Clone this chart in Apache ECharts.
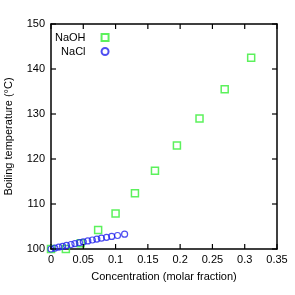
<!DOCTYPE html>
<html><head><meta charset="utf-8">
<script src="https://cdn.jsdelivr.net/npm/echarts@6/dist/echarts.min.js"></script>
<style>html,body{margin:0;padding:0;background:#fff}#c{width:295px;height:295px}</style>
</head><body><div id="c"></div>
<script>
const naohX = [0.000, 0.023, 0.046, 0.073, 0.100, 0.130, 0.161, 0.195, 0.230, 0.269, 0.310];
const naohY = [100.0, 100.0, 101.3, 104.2, 107.9, 112.4, 117.4, 123.0, 129.0, 135.5, 142.5];
const naclX = [0.000, 0.006, 0.012, 0.018, 0.024, 0.031, 0.037, 0.044, 0.050, 0.057, 0.064, 0.071, 0.078, 0.086, 0.094, 0.103, 0.114];
const naclY = [100.0, 100.2, 100.4, 100.6, 100.8, 101.0, 101.2, 101.4, 101.6, 101.8, 102.0, 102.2, 102.4, 102.6, 102.8, 103.0, 103.3];
const xTicks = [0, 0.05, 0.1, 0.15, 0.2, 0.25, 0.3, 0.35];
const yTicks = [100, 110, 120, 130, 140, 150];

const font = 'Liberation Sans';
const chart = echarts.init(document.getElementById('c'));
function ax(extra) {
  return Object.assign({
    axisLine: {show: true, onZero: false, lineStyle: {color: '#000', width: 1.5}},
    axisTick: {show: false},
    splitLine: {show: false}
  }, extra);
}
const xMin = xTicks[0], xMax = xTicks[xTicks.length - 1];
const yMin = yTicks[0], yMax = yTicks[yTicks.length - 1];
const TL = 5;
function renderTicks(params, api) {
  const bl = api.coord([xMin, yMin]);
  const tr = api.coord([xMax, yMax]);
  const children = [];
  const st = {stroke: '#000', lineWidth: 1.2};
  xTicks.forEach(t => {
    const x = api.coord([t, yMin])[0];
    children.push({type: 'line', shape: {x1: x, y1: bl[1], x2: x, y2: bl[1] - TL}, style: st});
    children.push({type: 'line', shape: {x1: x, y1: tr[1], x2: x, y2: tr[1] + TL}, style: st});
  });
  yTicks.forEach(t => {
    const y = api.coord([xMin, t])[1];
    children.push({type: 'line', shape: {x1: bl[0], y1: y, x2: bl[0] + TL, y2: y}, style: st});
    children.push({type: 'line', shape: {x1: tr[0], y1: y, x2: tr[0] - TL, y2: y}, style: st});
  });
  return {type: 'group', children: children};
}
chart.setOption({
  animation: false,
  textStyle: {fontFamily: font},
  grid: {left: 51, right: 18, top: 24, bottom: 46, outerBoundsMode: 'none'},
  legend: {
    orient: 'vertical', left: 50, top: 27, align: 'right', itemGap: 3,
    itemWidth: 7, itemHeight: 7,
    textStyle: {fontFamily: font, fontSize: 11, color: '#000', width: 34, align: 'right', padding: [0, 11, 0, 0]},
    data: ['NaOH', 'NaCl']
  },
  xAxis: [
    ax({
      type: 'value', min: xMin, max: xMax, interval: 0.05, position: 'bottom',
      name: 'Concentration (molar fraction)', nameLocation: 'middle', nameGap: 22,
      nameTextStyle: {fontFamily: font, fontSize: 11, color: '#000'},
      axisLabel: {fontFamily: font, fontSize: 11, color: '#000', margin: 5}
    }),
    ax({
      type: 'value', min: xMin, max: xMax, interval: 0.05, position: 'top',
      axisLabel: {show: false}
    })
  ],
  yAxis: [
    ax({
      type: 'value', min: yMin, max: yMax, interval: 10, position: 'left',
      name: 'Boiling temperature (°C)', nameLocation: 'middle', nameGap: 37,
      nameTextStyle: {fontFamily: font, fontSize: 11, color: '#000'},
      axisLabel: {fontFamily: font, fontSize: 11, color: '#000', margin: 6}
    }),
    ax({
      type: 'value', min: yMin, max: yMax, interval: 10, position: 'right',
      axisLabel: {show: false}
    })
  ],
  series: [
    {
      name: 'ticks', type: 'custom', xAxisIndex: 0, yAxisIndex: 0, silent: true, clip: false,
      renderItem: renderTicks, data: [[xMin, yMin]], z: 10
    },
    {
      name: 'NaOH', type: 'scatter', xAxisIndex: 0, yAxisIndex: 0,
      symbol: 'rect', symbolSize: 7,
      itemStyle: {color: 'rgba(0,0,0,0)', borderColor: '#33ee33', borderWidth: 1.5},
      data: naohX.map((x, i) => [x, naohY[i]])
    },
    {
      name: 'NaCl', type: 'scatter', xAxisIndex: 0, yAxisIndex: 0,
      symbol: 'circle', symbolSize: 6,
      itemStyle: {color: 'rgba(0,0,0,0)', borderColor: '#2222ee', borderWidth: 1.2},
      data: naclX.map((x, i) => [x, naclY[i]])
    },
    {
      name: 'mirror', type: 'scatter', xAxisIndex: 1, yAxisIndex: 1, data: [[0.5, 200]], silent: true, symbolSize: 0
    }
  ]
});
</script></body></html>
